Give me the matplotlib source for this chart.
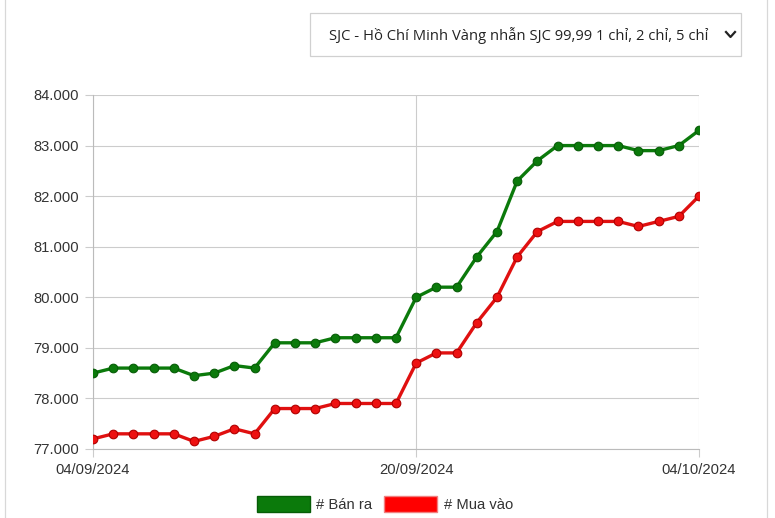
import matplotlib
matplotlib.use("Agg")
import matplotlib.pyplot as plt
from matplotlib.patches import Patch, Rectangle
from matplotlib.lines import Line2D
from matplotlib.ticker import FuncFormatter
import pandas as pd

# gia vang SJC, nghin dong / chi
dates = pd.date_range("2024-09-04", "2024-10-04", freq="D")
ban_ra = [78.5, 78.6, 78.6, 78.6, 78.6, 78.45, 78.5, 78.65, 78.6, 79.1,
          79.1, 79.1, 79.2, 79.2, 79.2, 79.2, 80.0, 80.2, 80.2, 80.8,
          81.3, 82.3, 82.7, 83.0, 83.0, 83.0, 83.0, 82.9, 82.9, 83.0, 83.3]
mua_vao = [77.2, 77.3, 77.3, 77.3, 77.3, 77.15, 77.25, 77.4, 77.3, 77.8,
           77.8, 77.8, 77.9, 77.9, 77.9, 77.9, 78.7, 78.9, 78.9, 79.5,
           80.0, 80.8, 81.3, 81.5, 81.5, 81.5, 81.5, 81.4, 81.5, 81.6, 82.0]
tick_dates = ["2024-09-04", "2024-09-20", "2024-10-04"]
tick_labels = ["04/09/2024", "20/09/2024", "04/10/2024"]
series_names = ["# Bán ra", "# Mua vào"]
title = "SJC - Hồ Chí Minh Vàng nhẫn SJC 99,99 1 chỉ, 2 chỉ, 5 chỉ"

W, H = 775, 518
fig = plt.figure(figsize=(W / 100, H / 100), dpi=100)
ax = fig.add_axes([93 / W, 1 - 449 / H, (699 - 93) / W, (449 - 95) / H])

grid_c = "#cccccc"
txt_c = "#333333"

ax.plot(dates, ban_ra, color="#0b7a0b", lw=2.4, marker="o", ms=6.2,
        mfc="#0b7a0b", mec="#075c07", mew=0.8, zorder=3)
ax.plot(dates, mua_vao, color="#e01010", lw=2.4, marker="o", ms=6.2,
        mfc="#ee1111", mec="#b00000", mew=0.8, zorder=3)

ax.set_xlim(dates[0], dates[-1])
ax.set_ylim(77, 84)
ax.set_yticks(range(77, 85))
ax.yaxis.set_major_formatter(FuncFormatter(lambda v, p: "%d.000" % v))
ax.set_xticks(pd.to_datetime(tick_dates))
ax.set_xticklabels(tick_labels)

ax.grid(True, color=grid_c, lw=0.8)
ax.set_axisbelow(True)
for s in ["top", "right"]:
    ax.spines[s].set_visible(False)
for s in ["left", "bottom"]:
    ax.spines[s].set_color("#bbbbbb")
    ax.spines[s].set_linewidth(0.8)
ax.tick_params(colors=grid_c, labelcolor=txt_c, length=6, width=0.8,
               labelsize=10.6, pad=4)
for lab in ax.get_xticklabels() + ax.get_yticklabels():
    lab.set_family("Liberation Sans")

# legend
handles = [Patch(facecolor="#0b7a0b", edgecolor="#075c07"),
           Patch(facecolor="#ff0000", edgecolor="#f08080")]
fig.legend(handles, series_names, loc="center", ncol=2,
           bbox_to_anchor=(385 / W, 1 - 504 / H), frameon=False,
           prop={"family": "Liberation Sans", "size": 10.6},
           handlelength=3.6, handleheight=1.25, handletextpad=0.45,
           columnspacing=0.8, labelcolor=txt_c)

# dropdown box
fig.patches.append(Rectangle((310 / W, 1 - 56 / H), (741 - 310) / W, 43 / H,
                             transform=fig.transFigure, fill=False,
                             edgecolor="#d0d0d0", lw=0.9))
fig.text(329 / W, 1 - 36 / H, title, ha="left", va="center",
         fontsize=10.6, family="Open Sans", color="#222222")
fig.add_artist(Line2D([726 / W, 730.5 / W, 735 / W],
                      [1 - 32 / H, 1 - 37 / H, 1 - 32 / H],
                      transform=fig.transFigure, color="#222222", lw=1.6))

# container borders
for xp in [5, 767]:
    fig.add_artist(Line2D([xp / W, xp / W], [0, 1], transform=fig.transFigure,
                          color="#d8d8d8", lw=0.9))

fig.savefig("out.png", dpi=100)
